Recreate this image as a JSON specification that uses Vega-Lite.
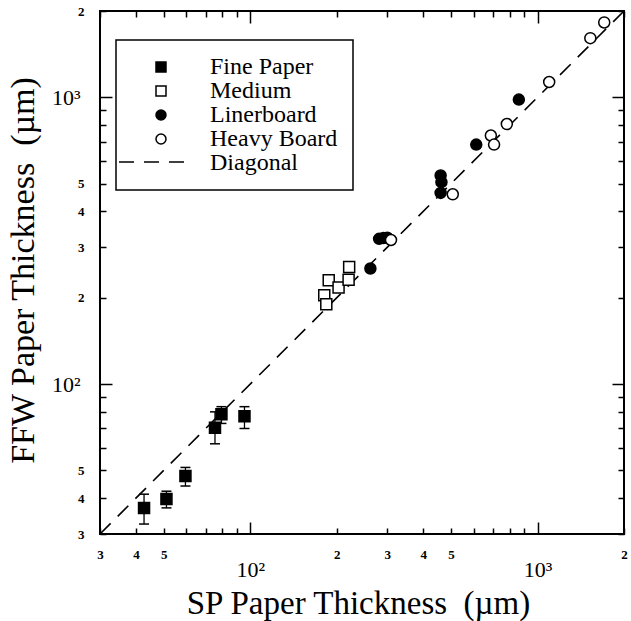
{
  "$schema": "https://vega.github.io/schema/vega-lite/v6.json",
  "width": 524,
  "height": 523,
  "autosize": "none",
  "padding": {"left": 100, "top": 11, "right": 7, "bottom": 87},
  "background": "white",
  "config": {
    "view": {"stroke": "black", "strokeWidth": 2},
    "font": "Liberation Serif",
    "legend": {"strokeWidth": 1.5}
  },
  "datasets": {
    "diag": [
      {"sp": 30, "ffw": 30, "type": "Diagonal"},
      {"sp": 2000, "ffw": 2000, "type": "Diagonal"}
    ],
    "fine": [
      {"type": "Fine Paper", "sp": 42.7, "ffw": 37.0, "lo": 32.5, "hi": 41.3},
      {"type": "Fine Paper", "sp": 51.1, "ffw": 39.7, "lo": 37.0, "hi": 42.3},
      {"type": "Fine Paper", "sp": 59.5, "ffw": 47.8, "lo": 44.1, "hi": 51.2},
      {"type": "Fine Paper", "sp": 75.4, "ffw": 70.4, "lo": 61.9, "hi": 80.0},
      {"type": "Fine Paper", "sp": 79.4, "ffw": 78.4, "lo": 72.9, "hi": 83.4},
      {"type": "Fine Paper", "sp": 95.5, "ffw": 77.3, "lo": 70.0, "hi": 83.4}
    ],
    "pts": [
      {"type": "Fine Paper", "sp": 42.7, "ffw": 37.0},
      {"type": "Fine Paper", "sp": 51.1, "ffw": 39.7},
      {"type": "Fine Paper", "sp": 59.5, "ffw": 47.8},
      {"type": "Fine Paper", "sp": 75.4, "ffw": 70.4},
      {"type": "Fine Paper", "sp": 79.4, "ffw": 78.4},
      {"type": "Fine Paper", "sp": 95.5, "ffw": 77.3},
      {"type": "Medium", "sp": 187.6, "ffw": 230},
      {"type": "Medium", "sp": 181, "ffw": 204},
      {"type": "Medium", "sp": 184, "ffw": 190},
      {"type": "Medium", "sp": 203, "ffw": 217},
      {"type": "Medium", "sp": 221, "ffw": 256},
      {"type": "Medium", "sp": 220, "ffw": 231},
      {"type": "Linerboard", "sp": 262, "ffw": 253},
      {"type": "Linerboard", "sp": 281, "ffw": 321},
      {"type": "Linerboard", "sp": 291, "ffw": 323},
      {"type": "Linerboard", "sp": 300, "ffw": 324},
      {"type": "Linerboard", "sp": 460, "ffw": 534},
      {"type": "Linerboard", "sp": 463, "ffw": 506},
      {"type": "Linerboard", "sp": 460, "ffw": 464},
      {"type": "Linerboard", "sp": 612, "ffw": 684},
      {"type": "Linerboard", "sp": 861, "ffw": 982},
      {"type": "Heavy Board", "sp": 309, "ffw": 318},
      {"type": "Heavy Board", "sp": 507, "ffw": 459},
      {"type": "Heavy Board", "sp": 688, "ffw": 736},
      {"type": "Heavy Board", "sp": 706, "ffw": 684},
      {"type": "Heavy Board", "sp": 782, "ffw": 807},
      {"type": "Heavy Board", "sp": 1098, "ffw": 1131},
      {"type": "Heavy Board", "sp": 1527, "ffw": 1608},
      {"type": "Heavy Board", "sp": 1707, "ffw": 1824}
    ]
  },
  "resolve": {"axis": {"x": "independent", "y": "independent"}},
  "layer": [
    {
      "data": {"name": "diag"},
      "mark": {"type": "line", "strokeWidth": 1.6, "color": "black"},
      "encoding": {
        "x": {
          "field": "sp", "type": "quantitative",
          "scale": {"type": "log", "domain": [30, 2000], "nice": false},
          "axis": {
            "orient": "bottom",
            "values": [30, 40, 50, 60, 70, 80, 90, 100, 200, 300, 400, 500, 600, 700, 800, 900, 1000, 2000],
            "domain": false, "grid": false,
            "labelExpr": "datum.value==100?'10²':datum.value==1000?'10³':indexof([30,40,50,200,300,400,500,2000],datum.value)>=0?slice(toString(datum.value),0,1):''",
            "labelFont": "Liberation Serif",
            "labelColor": "black",
            "labelFontSize": {"condition": {"test": "datum.value==100||datum.value==1000", "value": 22}, "value": 13},
            "labelFontWeight": {"condition": {"test": "datum.value==100||datum.value==1000", "value": "normal"}, "value": "bold"},
            "labelPadding": {"condition": {"test": "datum.value==100||datum.value==1000", "value": 37}, "value": 20},
            "tickSize": {"condition": {"test": "datum.value==100||datum.value==1000", "value": -12}, "value": -6},
            "tickColor": "black", "tickWidth": 1.5,
            "labelFlush": false, "labelOverlap": false, "labelBound": false,
            "title": "SP Paper Thickness\u00a0 (µm)",
            "titleFont": "Liberation Serif", "titleFontSize": 33, "titleFontWeight": "normal", "titleColor": "black",
            "titleBaseline": "alphabetic", "titleY": 79, "titleX": 258
          }
        },
        "y": {
          "field": "ffw", "type": "quantitative",
          "scale": {"type": "log", "domain": [30, 2000], "nice": false},
          "axis": {
            "orient": "left",
            "values": [30, 40, 50, 60, 70, 80, 90, 100, 200, 300, 400, 500, 600, 700, 800, 900, 1000, 2000],
            "domain": false, "grid": false,
            "labelExpr": "datum.value==100?'10²':datum.value==1000?'10³':indexof([30,40,50,200,300,400,500,2000],datum.value)>=0?slice(toString(datum.value),0,1):''",
            "labelFont": "Liberation Serif",
            "labelColor": "black",
            "labelFontSize": {"condition": {"test": "datum.value==100||datum.value==1000", "value": 22}, "value": 13},
            "labelFontWeight": {"condition": {"test": "datum.value==100||datum.value==1000", "value": "normal"}, "value": "bold"},
            "labelPadding": {"condition": {"test": "datum.value==100||datum.value==1000", "value": 32}, "value": 22},
            "tickSize": {"condition": {"test": "datum.value==100||datum.value==1000", "value": -12}, "value": -6},
            "tickColor": "black", "tickWidth": 1.5,
            "labelFlush": false, "labelOverlap": false, "labelBound": false,
            "title": "FFW Paper Thickness\u00a0 (µm)",
            "titleFont": "Liberation Serif", "titleFontSize": 34, "titleFontWeight": "normal", "titleColor": "black",
            "titleBaseline": "alphabetic", "titleX": -67, "titleY": 259
          }
        },
        "strokeDash": {
          "field": "type", "type": "nominal",
          "scale": {"domain": ["Diagonal"], "range": [[15, 10]]},
          "legend": {
            "orient": "none", "legendX": 18, "legendY": 115, "title": null,
            "padding": 0, "labelExpr": "''",
            "symbolSize": 4900, "symbolStrokeWidth": 1.6, "symbolStrokeColor": "black", "symbolType": "stroke",
            "encode": {"symbols": {"update": {"stroke": {"value": "black"}, "strokeWidth": {"value": 1.6}, "strokeDash": {"value": [19, 10]}, "opacity": {"value": 1}}}}
          }
        }
      }
    },
    {
      "data": {"name": "fine"},
      "mark": {"type": "rule", "strokeWidth": 1.3, "color": "black"},
      "encoding": {
        "x": {"field": "sp", "type": "quantitative", "scale": {"type": "log", "domain": [30, 2000], "nice": false}, "axis": null},
        "y": {"field": "lo", "type": "quantitative", "scale": {"type": "log", "domain": [30, 2000], "nice": false}, "axis": null},
        "y2": {"field": "hi"}
      }
    },
    {
      "data": {"name": "fine"},
      "mark": {"type": "tick", "orient": "horizontal", "size": 10, "thickness": 1.5, "color": "black", "opacity": 1},
      "encoding": {
        "x": {"field": "sp", "type": "quantitative", "scale": {"type": "log", "domain": [30, 2000], "nice": false}, "axis": null},
        "y": {"field": "lo", "type": "quantitative", "scale": {"type": "log", "domain": [30, 2000], "nice": false}, "axis": null}
      }
    },
    {
      "data": {"name": "fine"},
      "mark": {"type": "tick", "orient": "horizontal", "size": 10, "thickness": 1.5, "color": "black", "opacity": 1},
      "encoding": {
        "x": {"field": "sp", "type": "quantitative", "scale": {"type": "log", "domain": [30, 2000], "nice": false}, "axis": null},
        "y": {"field": "hi", "type": "quantitative", "scale": {"type": "log", "domain": [30, 2000], "nice": false}, "axis": null}
      }
    },
    {
      "data": {"name": "pts"},
      "mark": {"type": "point", "size": 121, "strokeWidth": 1.5, "opacity": 1, "fillOpacity": 1, "strokeOpacity": 1},
      "encoding": {
        "x": {"field": "sp", "type": "quantitative", "scale": {"type": "log", "domain": [30, 2000], "nice": false}, "axis": null},
        "y": {"field": "ffw", "type": "quantitative", "scale": {"type": "log", "domain": [30, 2000], "nice": false}, "axis": null},
        "shape": {
          "field": "type", "type": "nominal",
          "scale": {"domain": ["Fine Paper", "Medium", "Linerboard", "Heavy Board", "Diagonal"], "range": ["square", "square", "circle", "circle", "M0,0"]},
          "legend": {
            "orient": "none", "legendX": 16, "legendY": 29, "title": null, "padding": 15,
            "strokeColor": "black",
            "labelFont": "Liberation Serif", "labelFontSize": 24, "labelColor": "black",
            "symbolSize": 100, "symbolStrokeWidth": 1.5, "symbolStrokeColor": "black",
            "symbolOffset": 18, "labelOffset": 37, "rowPadding": -1,
            "encode": {"symbols": {"update": {"stroke": {"value": "black"}, "strokeWidth": {"value": 1.5}}}}
          }
        },
        "fill": {
          "field": "type", "type": "nominal",
          "scale": {"domain": ["Fine Paper", "Medium", "Linerboard", "Heavy Board", "Diagonal"], "range": ["black", "white", "black", "white", "white"]},
          "legend": {
            "orient": "none", "legendX": 16, "legendY": 29, "title": null, "padding": 15,
            "strokeColor": "black",
            "labelFont": "Liberation Serif", "labelFontSize": 24, "labelColor": "black",
            "symbolSize": 100, "symbolStrokeWidth": 1.5, "symbolStrokeColor": "black",
            "symbolOffset": 18, "labelOffset": 37, "rowPadding": -1,
            "encode": {"symbols": {"update": {"stroke": {"value": "black"}, "strokeWidth": {"value": 1.5}}}}
          }
        },
        "stroke": {
          "field": "type", "type": "nominal",
          "scale": {"domain": ["Fine Paper", "Medium", "Linerboard", "Heavy Board", "Diagonal"], "range": ["black", "black", "black", "black", "black"]},
          "legend": {
            "orient": "none", "legendX": 16, "legendY": 29, "title": null, "padding": 15,
            "strokeColor": "black",
            "labelFont": "Liberation Serif", "labelFontSize": 24, "labelColor": "black",
            "symbolSize": 100, "symbolStrokeWidth": 1.5, "symbolStrokeColor": "black",
            "symbolOffset": 18, "labelOffset": 37, "rowPadding": -1,
            "encode": {"symbols": {"update": {"stroke": {"value": "black"}, "strokeWidth": {"value": 1.5}}}}
          }
        }
      }
    },
    {
      "data": {"name": "diag"},
      "mark": {"type": "point", "opacity": 0},
      "encoding": {
        "x": {
          "field": "sp", "type": "quantitative",
          "scale": {"type": "log", "domain": [30, 2000], "nice": false},
          "axis": {
            "orient": "top",
            "values": [30, 40, 50, 60, 70, 80, 90, 100, 200, 300, 400, 500, 600, 700, 800, 900, 1000, 2000],
            "domain": false, "grid": false, "labels": false, "title": null,
            "tickSize": {"condition": {"test": "datum.value==100||datum.value==1000", "value": -12}, "value": -6},
            "tickColor": "black", "tickWidth": 1.5
          }
        },
        "y": {
          "field": "ffw", "type": "quantitative",
          "scale": {"type": "log", "domain": [30, 2000], "nice": false},
          "axis": {
            "orient": "right",
            "values": [30, 40, 50, 60, 70, 80, 90, 100, 200, 300, 400, 500, 600, 700, 800, 900, 1000, 2000],
            "domain": false, "grid": false, "labels": false, "title": null,
            "tickSize": {"condition": {"test": "datum.value==100||datum.value==1000", "value": -12}, "value": -6},
            "tickColor": "black", "tickWidth": 1.5
          }
        }
      }
    }
  ]
}
